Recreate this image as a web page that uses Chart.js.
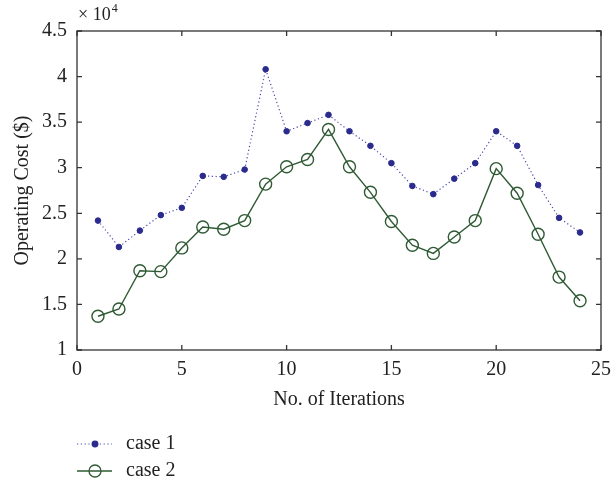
<!DOCTYPE html>
<html>
<head>
<meta charset="utf-8">
<script src="https://cdn.jsdelivr.net/npm/chart.js@4.4.1/dist/chart.umd.min.js"></script>
<style>
html, body { margin:0; padding:0; background:#fff; }
#wrap { width:613px; height:478px; }
</style>
</head>
<body>
<div id="wrap"><canvas id="c" width="613" height="478"></canvas></div>
<script>
// values (operating cost in $)
var iterations = [1,2,3,4,5,6,7,8,9,10,11,12,13,14,15,16,17,18,19,20,21,22,23,24];
var case1 = [24200,21300,23100,24800,25600,29100,29000,29800,40800,34000,34900,35800,
             34000,32400,30500,28000,27100,28800,30500,34000,32400,28100,24500,22900];
var case2 = [13700,14500,18700,18600,21200,23500,23250,24200,28200,30100,30900,34200,
             30100,27300,24100,21500,20600,22400,24200,29900,27200,22700,18000,15400];
var seriesNames = ['case 1', 'case 2'];
var xTicks = [0,5,10,15,20,25];
var yTicks = [10000,15000,20000,25000,30000,35000,40000,45000];
var yScaleFactor = 10000;

var serif = "'Liberation Serif', 'DejaVu Serif', serif";
var blue = '#2b2b8e';
var green = '#2f5a34';

function toPoints(xs, ys) {
  var out = [];
  for (var i = 0; i < xs.length; i++) out.push({x: xs[i], y: ys[i]});
  return out;
}

// frame with inward ticks, exponent label and a two-row legend
var framePlugin = {
  id: 'frame',
  afterDraw: function (chart) {
    var ctx = chart.ctx, a = chart.chartArea;
    var xs = chart.scales.x, ys = chart.scales.y;
    ctx.save();
    ctx.strokeStyle = '#333';
    ctx.lineWidth = 1.3;
    ctx.strokeRect(a.left, a.top, a.right - a.left, a.bottom - a.top);
    ctx.beginPath();
    xTicks.forEach(function (v) {
      var px = xs.getPixelForValue(v);
      ctx.moveTo(px, a.bottom); ctx.lineTo(px, a.bottom - 5);
      ctx.moveTo(px, a.top); ctx.lineTo(px, a.top + 5);
    });
    yTicks.forEach(function (v) {
      var py = ys.getPixelForValue(v);
      ctx.moveTo(a.left, py); ctx.lineTo(a.left + 5, py);
      ctx.moveTo(a.right, py); ctx.lineTo(a.right - 5, py);
    });
    ctx.stroke();

    // x 10^4
    ctx.fillStyle = '#222';
    ctx.textBaseline = 'alphabetic';
    ctx.textAlign = 'left';
    ctx.font = '18px ' + serif;
    ctx.fillText('\u00d7 10', a.left + 1, a.top - 11);
    var w = ctx.measureText('\u00d7 10').width;
    ctx.font = '12px ' + serif;
    ctx.fillText('4', a.left + 1 + w + 1, a.top - 19);

    // legend
    ctx.textBaseline = 'middle';
    chart.data.datasets.forEach(function (ds, i) {
      var y = 444 + i * 27;
      ctx.save();
      ctx.strokeStyle = ds.borderColor;
      ctx.lineWidth = ds.borderWidth;
      ctx.setLineDash(ds.borderDash || []);
      ctx.beginPath();
      ctx.moveTo(77, y); ctx.lineTo(112, y);
      ctx.stroke();
      ctx.restore();
      ctx.save();
      ctx.fillStyle = ds.pointBackgroundColor;
      ctx.strokeStyle = ds.pointBorderColor;
      Chart.helpers.drawPoint(ctx, {
        pointStyle: ds.pointStyle, radius: ds.pointRadius,
        rotation: 0, borderWidth: ds.pointBorderWidth
      }, 95, y);
      ctx.restore();
      ctx.fillStyle = '#222';
      ctx.font = '20px ' + serif;
      ctx.fillText(ds.label, 126, y);
    });
    ctx.restore();
  }
};

new Chart(document.getElementById('c'), {
  type: 'line',
  data: {
    datasets: [{
      label: seriesNames[0],
      data: toPoints(iterations, case1),
      borderColor: '#4a4aae',
      borderWidth: 1.2,
      borderDash: [1.2, 2.6],
      pointStyle: 'circle',
      pointRadius: 2.8,
      pointBackgroundColor: blue,
      pointBorderColor: blue,
      pointBorderWidth: 1,
      fill: false,
      tension: 0
    }, {
      label: seriesNames[1],
      data: toPoints(iterations, case2),
      borderColor: green,
      borderWidth: 1.4,
      pointStyle: 'circle',
      pointRadius: 6,
      pointBackgroundColor: 'rgba(0,0,0,0)',
      pointBorderColor: green,
      pointBorderWidth: 1.4,
      fill: false,
      tension: 0
    }]
  },
  options: {
    responsive: false,
    animation: false,
    devicePixelRatio: 1,
    layout: { padding: { top: 31, right: 12, bottom: 66, left: 0 } },
    plugins: { legend: { display: false }, tooltip: { enabled: false } },
    scales: {
      x: {
        type: 'linear', min: 0, max: 25,
        grid: { display: false, drawTicks: false }, border: { display: false },
        afterBuildTicks: function (s) { s.ticks = xTicks.map(function (v) { return {value: v}; }); },
        afterFit: function (s) { s.height = 62; s.paddingLeft = 0; s.paddingRight = 0; },
        ticks: { color: '#222', font: { family: serif, size: 20 }, padding: 8, maxRotation: 0 },
        title: { display: true, text: 'No. of Iterations', color: '#222',
                 font: { family: serif, size: 20 }, padding: { top: 0, bottom: 0 } }
      },
      y: {
        type: 'linear', min: 10000, max: 45000,
        grid: { display: false, drawTicks: false }, border: { display: false },
        afterBuildTicks: function (s) { s.ticks = yTicks.map(function (v) { return {value: v}; }); },
        afterFit: function (s) { s.width = 77; s.paddingTop = 0; s.paddingBottom = 0; },
        ticks: { color: '#222', font: { family: serif, size: 20 }, padding: 10,
                 callback: function (v) { return String(v / yScaleFactor); } },
        title: { display: true, text: 'Operating Cost ($)', color: '#222',
                 font: { family: serif, size: 20 }, padding: { top: 11, bottom: 0 } }
      }
    }
  },
  plugins: [framePlugin]
});
</script>
</body>
</html>
